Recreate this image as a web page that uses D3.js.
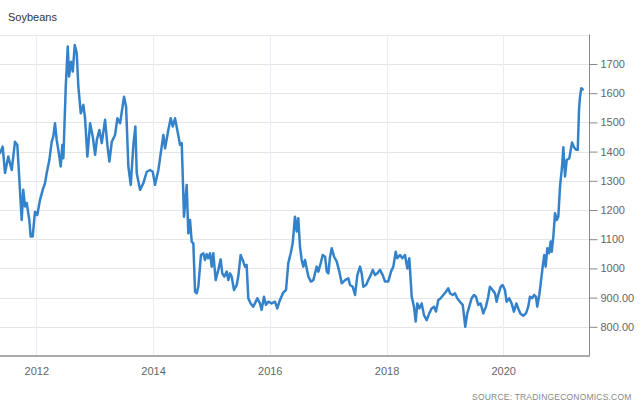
<!DOCTYPE html>
<html><head><meta charset="utf-8">
<script src="https://cdn.jsdelivr.net/npm/d3@7"></script>
<style>body{margin:0;background:#fff}svg{display:block;font-family:"Liberation Sans",Arial,sans-serif}</style>
</head><body>
<svg id="c" width="640" height="402"></svg>
<script>
const title = "Soybeans";
const source = "SOURCE: TRADINGECONOMICS.COM";
const yTicks = [800, 900, 1000, 1100, 1200, 1300, 1400, 1500, 1600, 1700];
const yearTicks = [2012, 2014, 2016, 2018, 2020];
// decimal year of each observation
const years = [2011.378,2011.424,2011.464,2011.520,2011.579,2011.635,2011.675,2011.750,2011.777,2011.806,
2011.836,2011.880,2011.904,2011.938,2011.978,2012.017,2012.063,2012.110,2012.149,2012.178,
2012.223,2012.264,2012.291,2012.320,2012.349,2012.377,2012.418,2012.445,2012.463,2012.504,
2012.538,2012.560,2012.594,2012.624,2012.658,2012.692,2012.719,2012.761,2012.805,2012.834,
2012.874,2012.920,2012.966,2013.006,2013.035,2013.079,2013.120,2013.177,2013.216,2013.251,
2013.292,2013.348,2013.388,2013.434,2013.502,2013.537,2013.576,2013.617,2013.662,2013.696,
2013.720,2013.776,2013.833,2013.891,2013.948,2013.994,2014.033,2014.090,2014.176,2014.205,
2014.261,2014.302,2014.337,2014.376,2014.415,2014.462,2014.491,2014.530,2014.576,2014.604,
2014.633,2014.662,2014.690,2014.719,2014.748,2014.775,2014.821,2014.861,2014.890,2014.919,
2014.946,2014.976,2015.005,2015.032,2015.073,2015.118,2015.159,2015.186,2015.221,2015.262,
2015.289,2015.318,2015.347,2015.387,2015.433,2015.460,2015.501,2015.536,2015.575,2015.604,
2015.632,2015.673,2015.717,2015.746,2015.786,2015.832,2015.861,2015.901,2015.935,2015.974,
2016.033,2016.089,2016.128,2016.175,2016.231,2016.278,2016.317,2016.358,2016.392,2016.432,
2016.461,2016.488,2016.517,2016.546,2016.574,2016.603,2016.632,2016.660,2016.701,2016.745,
2016.803,2016.831,2016.872,2016.906,2016.946,2016.975,2017.002,2017.031,2017.060,2017.100,
2017.146,2017.190,2017.231,2017.288,2017.345,2017.374,2017.420,2017.460,2017.499,2017.545,
2017.574,2017.602,2017.648,2017.687,2017.728,2017.763,2017.802,2017.842,2017.888,2017.934,
2017.973,2018.030,2018.076,2018.116,2018.157,2018.184,2018.230,2018.270,2018.316,2018.356,
2018.390,2018.431,2018.470,2018.499,2018.527,2018.561,2018.602,2018.642,2018.688,2018.732,
2018.773,2018.813,2018.847,2018.887,2018.928,2018.972,2019.018,2019.058,2019.087,2019.133,
2019.173,2019.212,2019.258,2019.305,2019.327,2019.349,2019.383,2019.418,2019.459,2019.498,
2019.533,2019.572,2019.613,2019.658,2019.704,2019.743,2019.772,2019.818,2019.858,2019.887,
2019.914,2019.956,2019.990,2020.029,2020.058,2020.103,2020.144,2020.183,2020.226,2020.257,
2020.295,2020.343,2020.389,2020.428,2020.457,2020.497,2020.526,2020.560,2020.582,2020.617,
2020.641,2020.675,2020.702,2020.726,2020.754,2020.783,2020.812,2020.829,2020.857,2020.886,
2020.915,2020.942,2020.971,2021.006,2021.028,2021.057,2021.086,2021.131,2021.155,2021.177,
2021.211,2021.246,2021.275,2021.297,2021.314,2021.336,2021.360];
const prices = [1395,1417,1327,1383,1337,1434,1423,1166,1269,1212,
1224,1166,1109,1109,1194,1183,1234,1269,1292,1326,
1371,1434,1451,1497,1440,1406,1349,1423,1377,1623,
1760,1657,1708,1674,1765,1737,1623,1531,1560,1514,
1383,1497,1451,1389,1440,1474,1429,1509,1423,1366,
1434,1457,1514,1497,1588,1554,1349,1286,1423,1486,
1326,1269,1292,1331,1337,1331,1286,1337,1457,1411,
1474,1514,1486,1514,1474,1423,1429,1177,1286,1120,
1166,1092,1086,920,915,937,1046,1052,1029,1049,
1035,1052,1006,1052,960,995,1031,983,972,989,
960,983,972,926,943,972,1046,1029,1006,1012,
898,880,869,880,898,880,858,903,875,886,
880,886,863,892,917,926,1018,1052,1086,1177,
1126,1172,1074,1029,1006,1029,1000,972,955,960,
1006,989,1018,1046,1040,989,983,1040,1069,1040,
1023,989,949,960,966,943,937,909,977,1006,
983,937,943,960,977,995,977,983,995,977,
955,955,989,1006,1057,1035,1046,1035,1046,1000,
1035,903,869,818,880,863,880,840,823,846,
863,869,852,892,898,909,920,932,915,909,
915,898,886,875,840,800,846,869,898,909,
903,875,880,846,869,903,937,926,915,886,
909,937,943,926,886,898,880,852,880,863,
845,838,846,869,903,898,909,903,869,909,
949,1006,1046,1006,1069,1052,1092,1057,1109,1189,
1166,1177,1280,1349,1415,1315,1371,1377,1406,1431,
1415,1406,1406,1543,1588,1617,1613];

function yearToDate(y){
  const yr = Math.floor(y);
  const start = new Date(yr,0,1), end = new Date(yr+1,0,1);
  return new Date(+start + (y-yr)*(end-start));
}
const data = years.map((y,i)=>({date:yearToDate(y), value:prices[i]}));

const svg = d3.select("#c");
const x = d3.scaleTime().domain([yearToDate(2011.378), yearToDate(2021.468)]).range([0, 589]);
const y = d3.scaleLinear().domain([700, 1800]).range([356, 34.8]);

// horizontal grid
svg.append("g").selectAll("line").data(yTicks.concat([1800])).join("line")
  .attr("x1",0).attr("x2",589).attr("y1",d=>Math.round(y(d))+0.5).attr("y2",d=>Math.round(y(d))+0.5)
  .attr("stroke","#e6e6e6").attr("stroke-width",1);
// vertical grid
svg.append("g").selectAll("line").data(yearTicks).join("line")
  .attr("x1",d=>Math.round(x(new Date(d,0,1)))+0.5).attr("x2",d=>Math.round(x(new Date(d,0,1)))+0.5)
  .attr("y1",35).attr("y2",356)
  .attr("stroke","#e6edf5").attr("stroke-width",1);

// right y axis
const yAxis = d3.axisRight(y).tickValues(yTicks).tickSize(8).tickPadding(3)
  .tickFormat(d=> d>=1000 ? String(d) : d3.format(".2f")(d));
const ga = svg.append("g").attr("transform","translate(589.5,0)").call(yAxis);
ga.select(".domain").attr("d","M0,34.5V356").attr("stroke","#888");
ga.selectAll(".tick line").attr("stroke","#888");
ga.selectAll(".tick text").attr("fill","#666").attr("font-size",11).attr("font-family","Liberation Sans, Arial, sans-serif");

// bottom x axis
const xAxis = d3.axisBottom(x).tickValues(yearTicks.map(d=>new Date(d,0,1))).tickSize(0).tickPadding(11)
  .tickFormat(d3.timeFormat("%Y"));
const gx = svg.append("g").attr("transform","translate(0,356)").call(xAxis);
gx.select(".domain").attr("d","M0,0H590").attr("stroke","#aaa").attr("stroke-width",2);
gx.selectAll(".tick text").attr("fill","#666").attr("font-size",11).attr("font-family","Liberation Sans, Arial, sans-serif");

// line
svg.append("path").datum(data)
  .attr("d", d3.line().x(d=>x(d.date)).y(d=>y(d.value)))
  .attr("fill","none").attr("stroke","#3483ca").attr("stroke-width",2.5)
  .attr("stroke-linejoin","round").attr("stroke-linecap","round");

svg.append("text").attr("x",8).attr("y",21).text(title)
  .attr("font-size",11).attr("fill","#333");
svg.append("text").attr("x",631.5).attr("y",400).attr("text-anchor","end").text(source)
  .attr("font-size",8.5).attr("letter-spacing",0.2).attr("fill","#888");
</script>
</body></html>
